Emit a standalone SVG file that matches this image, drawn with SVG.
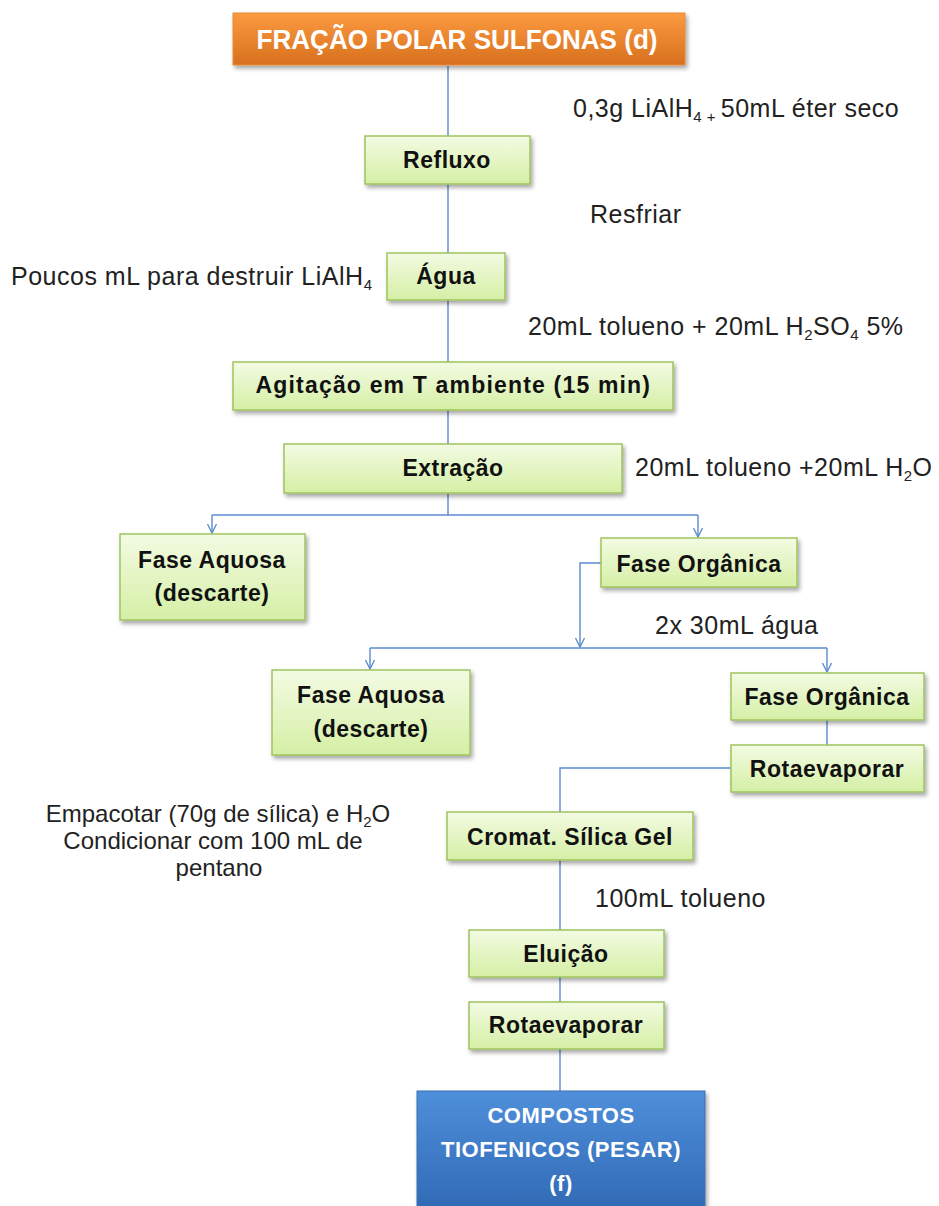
<svg xmlns="http://www.w3.org/2000/svg" width="939" height="1206" viewBox="0 0 939 1206">
<defs>
<linearGradient id="gGreen" x1="0" y1="0" x2="0" y2="1">
<stop offset="0" stop-color="#f3fbe3"/>
<stop offset="1" stop-color="#d5efa5"/>
</linearGradient>
<linearGradient id="gOrange" x1="0" y1="0" x2="0" y2="1">
<stop offset="0" stop-color="#fb9a40"/>
<stop offset="1" stop-color="#d8701e"/>
</linearGradient>
<linearGradient id="gBlue" x1="0" y1="0" x2="0" y2="1">
<stop offset="0" stop-color="#4f8fda"/>
<stop offset="1" stop-color="#2e66b2"/>
</linearGradient>
<filter id="sh" x="-10%" y="-20%" width="130%" height="160%">
<feDropShadow dx="2" dy="3" stdDeviation="2" flood-color="#000" flood-opacity="0.35"/>
</filter>
<marker id="arr" markerWidth="12" markerHeight="10" refX="10" refY="5" orient="auto" markerUnits="userSpaceOnUse">
<path d="M1,0.5 L10,5 L1,9.5" fill="none" stroke="#5b8bcf" stroke-width="1.3"/>
</marker>
</defs>
<style>
.box{fill:url(#gGreen);stroke:#9fc45e;stroke-width:1.5;filter:url(#sh)}
.bt{font-family:"Liberation Sans",Arial,sans-serif;font-weight:bold;font-size:23px;letter-spacing:0.5px;fill:#111;text-anchor:middle}
.lb{font-family:"Liberation Sans",Arial,sans-serif;font-size:25px;letter-spacing:0.5px;fill:#222}
.lb2{font-family:"Liberation Sans",Arial,sans-serif;font-size:24px;letter-spacing:0px;fill:#222;text-anchor:middle}
.sub{font-size:15px}
.wt{font-family:"Liberation Sans",Arial,sans-serif;font-weight:bold;fill:#fff;text-anchor:middle}
.ln{fill:none;stroke:#5b8bcf;stroke-width:1.4}
</style>
<rect width="939" height="1206" fill="#fff"/>

<g id="connectors">
<path class="ln" d="M448,66 V515"/>
<path class="ln" d="M212,515 H698"/>
<path class="ln" d="M212,515 V533" marker-end="url(#arr)"/>
<path class="ln" d="M698,515 V537" marker-end="url(#arr)"/>
<path class="ln" d="M601,563 H580 V647" marker-end="url(#arr)"/>
<path class="ln" d="M370,648 H827"/>
<path class="ln" d="M370,648 V669" marker-end="url(#arr)"/>
<path class="ln" d="M827,648 V672" marker-end="url(#arr)"/>
<path class="ln" d="M827,720 V745"/>
<path class="ln" d="M731,768 H560 V812"/>
<path class="ln" d="M560,860 V930"/>
<path class="ln" d="M560,977 V1002"/>
<path class="ln" d="M560,1049 V1091"/>
</g>

<g id="n-header">
<rect x="233" y="13" width="452" height="52" fill="url(#gOrange)" stroke="#e58a36" stroke-width="1" filter="url(#sh)"/>
<text class="wt" x="457" y="49" font-size="27" textLength="401" lengthAdjust="spacingAndGlyphs">FRAÇÃO POLAR SULFONAS (d)</text>
</g>

<g id="n-refluxo">
<rect class="box" x="365" y="136" width="165" height="48"/>
<text class="bt" x="447" y="168">Refluxo</text>
</g>

<g id="n-agua">
<rect class="box" x="387" y="253" width="118" height="47"/>
<text class="bt" x="446" y="284">Água</text>
</g>

<g id="n-agitacao">
<rect class="box" x="233" y="362" width="440" height="48"/>
<text class="bt" x="453" y="393" textLength="395" lengthAdjust="spacing">Agitação em T ambiente (15 min)</text>
</g>

<g id="n-extracao">
<rect class="box" x="284" y="444" width="338" height="49"/>
<text class="bt" x="453" y="476">Extração</text>
</g>

<g id="n-aquosa1">
<rect class="box" x="120" y="534" width="185" height="86"/>
<text class="bt" x="212" y="568">Fase Aquosa</text>
<text class="bt" x="212" y="601">(descarte)</text>
</g>

<g id="n-organica1">
<rect class="box" x="601" y="538" width="196" height="49"/>
<text class="bt" x="699" y="572">Fase Orgânica</text>
</g>

<g id="n-aquosa2">
<rect class="box" x="272" y="670" width="198" height="85"/>
<text class="bt" x="371" y="703">Fase Aquosa</text>
<text class="bt" x="371" y="737">(descarte)</text>
</g>

<g id="n-organica2">
<rect class="box" x="731" y="673" width="193" height="47"/>
<text class="bt" x="827" y="705">Fase Orgânica</text>
</g>

<g id="n-rota1">
<rect class="box" x="731" y="745" width="193" height="47"/>
<text class="bt" x="827" y="777">Rotaevaporar</text>
</g>

<g id="n-cromat">
<rect class="box" x="447" y="812" width="246" height="48"/>
<text class="bt" x="570" y="845">Cromat. Sílica Gel</text>
</g>

<g id="n-eluicao">
<rect class="box" x="469" y="930" width="195" height="47"/>
<text class="bt" x="566" y="962">Eluição</text>
</g>

<g id="n-rota2">
<rect class="box" x="469" y="1002" width="195" height="47"/>
<text class="bt" x="566" y="1033">Rotaevaporar</text>
</g>

<g id="n-compostos">
<rect x="417" y="1091" width="288" height="130" fill="url(#gBlue)" stroke="#3b70b4" stroke-width="1" filter="url(#sh)"/>
<text class="wt" x="561" y="1123" font-size="22" letter-spacing="0.5">COMPOSTOS</text>
<text class="wt" x="561" y="1157" font-size="22" letter-spacing="0.5">TIOFENICOS (PESAR)</text>
<text class="wt" x="561" y="1191" font-size="22" letter-spacing="0.5">(f)</text>
</g>

<g id="labels">
<text class="lb" x="573" y="117">0,3g LiAlH<tspan class="sub" dy="5">4 + </tspan><tspan dy="-5">50mL éter seco</tspan></text>
<text class="lb" x="590" y="223">Resfriar</text>
<text class="lb" x="11" y="285">Poucos mL para destruir LiAlH<tspan class="sub" dy="5">4</tspan></text>
<text class="lb" x="528" y="335">20mL tolueno + 20mL H<tspan class="sub" dy="5">2</tspan><tspan dy="-5">SO</tspan><tspan class="sub" dy="5">4</tspan><tspan dy="-5"> 5%</tspan></text>
<text class="lb" x="635" y="476">20mL tolueno +20mL H<tspan class="sub" dy="5">2</tspan><tspan dy="-5">O</tspan></text>
<text class="lb" x="655" y="634">2x 30mL água</text>
<text class="lb2" x="218" y="822">Empacotar (70g de sílica) e H<tspan class="sub" dy="5">2</tspan><tspan dy="-5">O</tspan></text>
<text class="lb2" x="213" y="849">Condicionar com 100 mL de</text>
<text class="lb2" x="219" y="876">pentano</text>
<text class="lb" x="595" y="907">100mL tolueno</text>
</g>
</svg>
